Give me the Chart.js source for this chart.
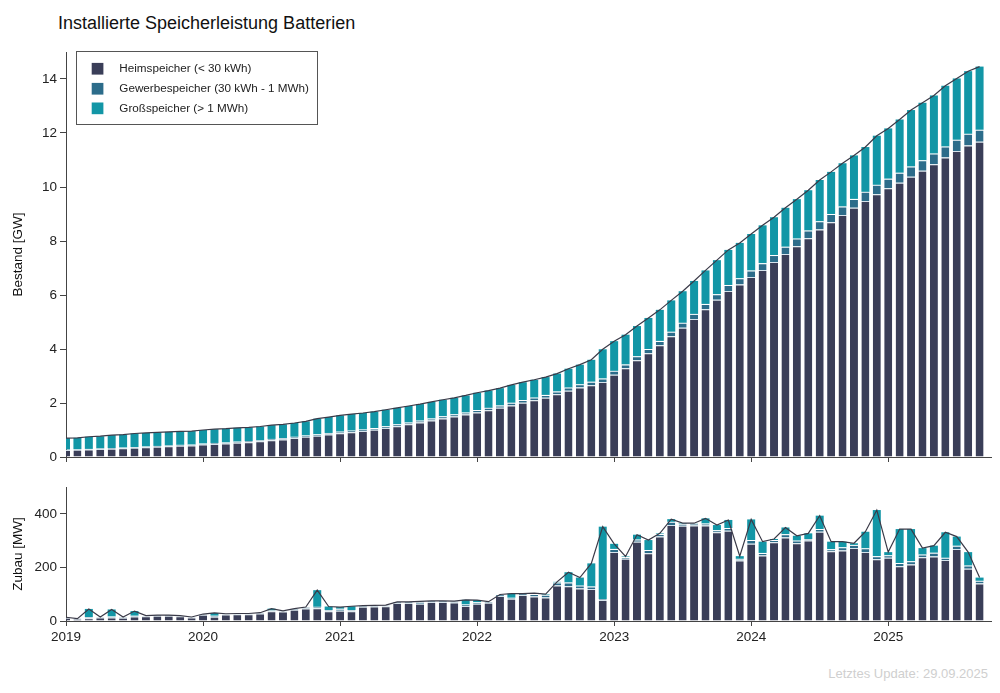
<!DOCTYPE html>
<html>
<head>
<meta charset="utf-8">
<script src="https://cdn.jsdelivr.net/npm/chart.js@4.4.1/dist/chart.umd.min.js"></script>
<style>
  body { margin:0; background:#fff; width:1000px; height:693px; overflow:hidden; position:relative;
         font-family:'Liberation Sans', Arial, sans-serif; }
  #titel { position:absolute; left:58px; top:14px; font-size:18px; line-height:18px; color:#111; white-space:nowrap; }
  #oben { position:absolute; left:0; top:40px; width:1000px; height:430px; }
  #unten { position:absolute; left:0; top:470px; width:1000px; height:190px; }
  #update { position:absolute; right:12px; top:667px; font-size:13px; line-height:13px; color:#cfcfcf; }
</style>
</head>
<body>
<div id="titel">Installierte Speicherleistung Batterien</div>
<div id="oben"><canvas id="bestand"></canvas></div>
<div id="unten"><canvas id="zubau"></canvas></div>
<div id="update">Letztes Update: 29.09.2025</div>
<script>
// Monate ab Januar 2019 (Index 0) bis September 2025 (Index 80), Balken jeweils am Monatsersten
var jahre = ['2019', '2020', '2021', '2022', '2023', '2024', '2025'];
var jahrTicks = [0, 12, 24, 36, 48, 60, 72];
var xMax = 81; // 1. Oktober 2025

var bestandTicks = [0, 2, 4, 6, 8, 10, 12, 14];
var zubauTicks = [0, 200, 400];

// Bestand [GW]
var bestandHeim = [
  0.26,0.27,0.28,0.30,0.31,0.32,0.34,0.36,0.38,0.40,0.42,0.43,
  0.46,0.48,0.50,0.53,0.55,0.58,0.62,0.65,0.70,0.75,0.79,0.83,
  0.88,0.92,0.96,1.01,1.07,1.14,1.21,1.28,1.35,1.43,1.50,1.57,
  1.65,1.73,1.82,1.91,2.01,2.10,2.19,2.32,2.45,2.57,2.66,2.78,
  3.05,3.29,3.58,3.84,4.14,4.47,4.79,5.11,5.47,5.82,6.15,6.39,
  6.67,6.93,7.22,7.52,7.81,8.10,8.43,8.69,8.96,9.23,9.48,9.73,
  9.95,10.16,10.38,10.60,10.84,11.09,11.33,11.54,11.68];
var bestandGewerbe = [
  0.02,0.02,0.02,0.02,0.02,0.03,0.03,0.03,0.03,0.03,0.03,0.03,
  0.04,0.04,0.04,0.04,0.04,0.04,0.05,0.05,0.05,0.05,0.05,0.06,
  0.06,0.06,0.06,0.06,0.07,0.07,0.07,0.07,0.08,0.08,0.08,0.08,
  0.09,0.09,0.09,0.10,0.10,0.10,0.11,0.11,0.12,0.12,0.13,0.13,
  0.14,0.14,0.15,0.16,0.16,0.17,0.18,0.19,0.20,0.21,0.22,0.23,
  0.24,0.25,0.26,0.27,0.28,0.29,0.30,0.31,0.32,0.33,0.34,0.35,
  0.36,0.37,0.38,0.39,0.40,0.41,0.42,0.43,0.44];
var bestandGross = [
  0.42,0.42,0.45,0.45,0.48,0.48,0.50,0.50,0.50,0.50,0.50,0.50,
  0.50,0.51,0.51,0.51,0.51,0.51,0.51,0.51,0.51,0.52,0.58,0.59,
  0.60,0.61,0.61,0.61,0.61,0.61,0.61,0.61,0.61,0.61,0.61,0.63,
  0.64,0.64,0.64,0.66,0.66,0.66,0.66,0.66,0.70,0.73,0.81,1.08,
  1.10,1.10,1.12,1.15,1.15,1.16,1.17,1.22,1.24,1.26,1.30,1.31,
  1.35,1.40,1.40,1.44,1.46,1.49,1.53,1.56,1.60,1.61,1.66,1.82,
  1.86,1.97,2.09,2.13,2.15,2.25,2.27,2.32,2.34];

// Zubau [MW]
var zubauHeim = [
  12,7,10,13,13,12,17,18,20,20,18,13,
  23,16,24,25,25,28,36,35,42,47,48,36,
  38,36,53,54,55,67,67,64,71,71,69,56,
  64,68,93,83,97,91,88,132,130,121,119,78,
  257,232,296,253,315,358,355,356,356,331,337,226,
  288,244,294,312,290,300,333,260,263,272,257,230,
  236,204,211,238,241,228,269,195,140];
var zubauGewerbe = [
  2,2,5,2,4,3,3,2,2,2,2,2,
  3,4,3,3,3,3,4,3,4,5,5,5,
  8,5,4,4,4,4,4,8,4,4,5,6,
  6,4,6,4,5,10,10,12,14,11,10,4,
  12,7,8,12,10,12,8,8,8,8,10,6,
  14,10,8,12,10,6,10,8,12,12,14,12,
  9,12,12,10,14,8,12,12,10];
var zubauGross = [
  0,0,30,0,26,0,17,0,0,0,0,0,
  0,10,0,0,0,0,6,0,0,0,62,13,
  6,14,0,0,0,0,0,1,0,0,0,17,
  8,0,0,15,0,3,2,2,38,30,86,270,
  19,2,18,37,2,10,2,1,19,19,30,10,
  77,42,4,25,18,21,50,28,21,6,62,172,
  12,127,120,24,26,95,34,50,12];

var farben = { heim: '#3a3e58', gewerbe: '#2c6c8a', gross: '#1296a6', linie: '#3a3a48' };
var schrift = "'Liberation Sans', Arial, sans-serif";

Chart.defaults.font.family = schrift;
Chart.defaults.color = '#222';

function punkte(werte) {
  return werte.map(function (v, i) { return { x: i, y: v }; });
}
function summe(a, b, c) {
  return a.map(function (v, i) { return +(v + b[i] + c[i]).toFixed(3); });
}

function balken(label, werte, farbe, rand) {
  return {
    type: 'bar', label: label, data: punkte(werte),
    backgroundColor: farbe,
    borderColor: rand || farbe,
    borderWidth: rand ? { top: 1, left: 0, right: 0, bottom: 0 } : 0,
    barPercentage: 0.7, categoryPercentage: 1,
    stack: 'balken', order: 2
  };
}
function linie(werte) {
  return {
    type: 'line', label: 'Summe', data: punkte(werte),
    borderColor: farben.linie, borderWidth: 1.2, pointRadius: 0, tension: 0,
    stack: 'linie', order: 0
  };
}

function xAchse(beschriftet, hoehe) {
  return {
    type: 'linear', min: 0, max: xMax, stacked: true, offset: false,
    grid: { display: true, offset: false, drawOnChartArea: false, tickLength: 5, color: '#444' },
    border: { display: true, color: '#444', width: 1 },
    ticks: {
      font: { size: 13.5 }, color: '#222', padding: 3, maxRotation: 0, autoSkip: false,
      callback: function (v, i) { return beschriftet ? jahre[i] : ''; }
    },
    afterBuildTicks: function (s) { s.ticks = jahrTicks.map(function (v) { return { value: v }; }); },
    afterFit: function (s) { s.height = hoehe; }
  };
}
function yAchse(titel, max, ticks) {
  return {
    type: 'linear', stacked: true, min: 0, max: max,
    grid: { drawOnChartArea: false, tickLength: 6, color: '#444' },
    border: { display: true, color: '#444', width: 1 },
    ticks: { font: { size: 13.5 }, color: '#222', padding: 3 },
    afterBuildTicks: function (s) { s.ticks = ticks.map(function (v) { return { value: v }; }); },
    afterFit: function (s) { s.width = 66; },
    title: { display: true, text: titel, font: { size: 13.5 }, color: '#111', padding: { top: 10, bottom: 0 } }
  };
}

var legende = {
  id: 'legende',
  afterDraw: function (chart) {
    var ctx = chart.ctx;
    var zeilen = [28.7, 48.7, 68.3];
    ctx.save();
    ctx.fillStyle = '#fff';
    ctx.fillRect(76.5, 11.5, 241, 73);
    ctx.strokeStyle = '#555';
    ctx.lineWidth = 1;
    ctx.strokeRect(76.5, 11.5, 241, 73);
    chart.data.datasets.filter(function (d) { return d.type === 'bar'; }).forEach(function (d, i) {
      ctx.fillStyle = d.backgroundColor;
      ctx.fillRect(91.7, zeilen[i] - 5.8, 11.7, 11.7);
      ctx.fillStyle = '#222';
      ctx.font = '11.7px ' + schrift;
      ctx.textBaseline = 'middle';
      ctx.fillText(d.label, 119.3, zeilen[i]);
    });
    ctx.restore();
  }
};

function optionen(yTitel, yMax, yTicks, beschriftet, xHoehe, obenPad) {
  return {
    responsive: true, maintainAspectRatio: false, animation: false,
    layout: { padding: { top: obenPad, right: 9, left: 0, bottom: 0 } },
    plugins: { legend: { display: false }, tooltip: { enabled: false } },
    scales: { x: xAchse(beschriftet, xHoehe), y: yAchse(yTitel, yMax, yTicks) }
  };
}

new Chart(document.getElementById('bestand'), {
  type: 'bar',
  data: {
    datasets: [
      balken('Heimspeicher (< 30 kWh)', bestandHeim, farben.heim, '#d6e3ec'),
      balken('Gewerbespeicher (30 kWh - 1 MWh)', bestandGewerbe, farben.gewerbe, '#ffffff'),
      balken('Großspeicher (> 1 MWh)', bestandGross, farben.gross),
      linie(summe(bestandHeim, bestandGewerbe, bestandGross))
    ]
  },
  options: optionen('Bestand [GW]', 15, bestandTicks, false, 13, 12),
  plugins: [legende]
});

new Chart(document.getElementById('zubau'), {
  type: 'bar',
  data: {
    datasets: [
      balken('Heimspeicher (< 30 kWh)', zubauHeim, farben.heim, '#d6e3ec'),
      balken('Gewerbespeicher (30 kWh - 1 MWh)', zubauGewerbe, farben.gewerbe, '#ffffff'),
      balken('Großspeicher (> 1 MWh)', zubauGross, farben.gross),
      linie(summe(zubauHeim, zubauGewerbe, zubauGross))
    ]
  },
  options: optionen('Zubau [MW]', 500, zubauTicks, true, 39, 17)
});
</script>
</body>
</html>
